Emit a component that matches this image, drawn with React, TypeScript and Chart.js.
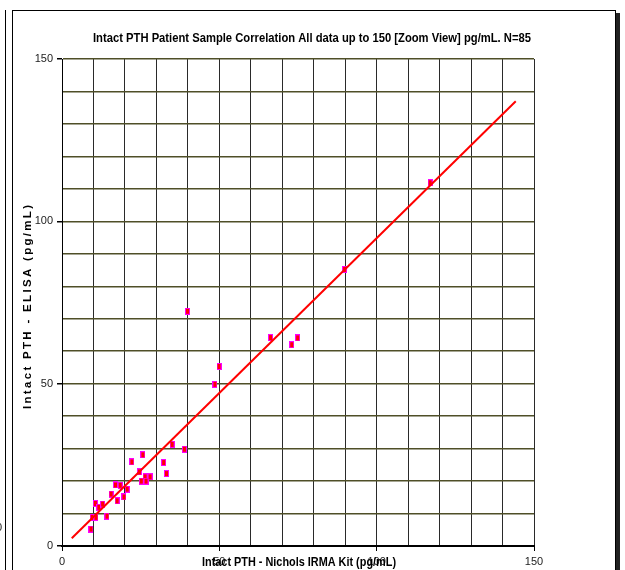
import React, { useEffect, useRef } from "react";
import { Chart, registerables } from "chart.js";

Chart.register(...registerables);

// Sample points (x = Nichols IRMA, y = ELISA), pg/mL
const sampleX = [9.2, 9.6, 10.8, 10.6, 11.7, 12.9, 14.3, 15.6, 17.5, 17.0, 18.5, 19.7, 20.7, 22.2, 25.7, 24.6, 25.2, 26.4, 26.7, 28.0, 32.3, 33.2, 35.0, 38.9, 39.9, 49.9, 48.6, 66.3, 73.0, 74.9, 89.8, 117.0];
const sampleY = [5.2, 8.8, 8.8, 13.1, 11.9, 12.9, 9.2, 16.0, 13.9, 18.8, 18.7, 15.1, 17.5, 25.9, 28.1, 22.8, 20.0, 21.3, 20.0, 21.3, 25.7, 22.3, 31.3, 29.8, 72.3, 55.3, 49.8, 64.2, 62.0, 64.1, 85.2, 111.9];

// Regression line end points
const fitX = [3.1, 144.2];
const fitY = [2.4, 137.0];

const yTickLabels = [0, 50, 100, 150];
const xTickLabels = [0, 50, 100, 150];

const TITLE = "Intact PTH Patient Sample Correlation All data up to 150 [Zoom View] pg/mL. N=85";
const X_TITLE = "Intact PTH - Nichols IRMA Kit (pg/mL)";
const Y_TITLE = "Intact PTH - ELISA (pg/mL)";

const FONT = 'Arial, "Liberation Sans", sans-serif';

function drawFitted(
  ctx: CanvasRenderingContext2D,
  text: string,
  cx: number,
  cy: number,
  target: number,
  font: string,
  rotate: boolean,
  color: string
) {
  ctx.save();
  ctx.font = font;
  ctx.fillStyle = color;
  ctx.textBaseline = "middle";
  ctx.textAlign = "left";
  const w = ctx.measureText(text).width;
  ctx.translate(cx, cy);
  if (rotate) ctx.rotate(-Math.PI / 2);
  if (target >= w) {
    const sp = (target - w) / Math.max(1, text.length - 1);
    (ctx as any).letterSpacing = sp + "px";
    const w2 = ctx.measureText(text).width - sp;
    ctx.fillText(text, -w2 / 2, 0);
  } else {
    ctx.scale(target / w, 1);
    ctx.fillText(text, -w / 2, 0);
  }
  ctx.restore();
}

const decorPlugin = {
  id: "decor",
  beforeDraw(chart: any) {
    const ctx = chart.ctx as CanvasRenderingContext2D;
    ctx.save();
    ctx.fillStyle = "#ffffff";
    ctx.fillRect(0, 0, chart.width, chart.height);
    ctx.restore();
  },
  afterDraw(chart: any) {
    const ctx = chart.ctx as CanvasRenderingContext2D;
    ctx.save();
    // neighbouring chart edge
    ctx.fillStyle = "#000";
    ctx.fillRect(5, 10, 1, 570);
    ctx.font = "11px " + FONT;
    ctx.textAlign = "right";
    ctx.textBaseline = "middle";
    ctx.fillStyle = "#222";
    ctx.fillText("0", 2, 528);
    // frame + shadow
    ctx.strokeStyle = "#000";
    ctx.lineWidth = 1;
    ctx.strokeRect(12.5, 10.5, 603, 620);
    ctx.fillRect(616, 13, 4, 600);
    ctx.restore();

    drawFitted(ctx, TITLE, 312, 38, 438, "bold 13px " + FONT, false, "#000");
    drawFitted(ctx, X_TITLE, 299, 563, 194, "bold 12px " + FONT, false, "#000");
    drawFitted(ctx, Y_TITLE, 28, 307, 204, "bold 11.5px " + FONT, true, "#000");
  },
};

function makeMarker(): HTMLCanvasElement {
  const c = document.createElement("canvas");
  c.width = 5;
  c.height = 7;
  const g = c.getContext("2d")!;
  g.fillStyle = "#ff00ff";
  g.fillRect(0, 0, 5, 7);
  g.fillStyle = "#ff0000";
  g.fillRect(1, 1, 3, 5);
  return c;
}

export default function App() {
  const ref = useRef<HTMLCanvasElement | null>(null);

  useEffect(() => {
    const canvas = ref.current;
    if (!canvas) return;
    const marker = makeMarker();
    const points = sampleX.map((x, i) => ({ x, y: sampleY[i] }));
    const fit = fitX.map((x, i) => ({ x, y: fitY[i] }));

    const chart = new Chart(canvas, {
      type: "scatter",
      data: {
        datasets: [
          {
            type: "line",
            data: fit,
            borderColor: "#ff0000",
            borderWidth: 2,
            pointRadius: 0,
            fill: false,
          } as any,
          {
            type: "scatter",
            data: points,
            pointStyle: marker as any,
            pointRadius: 4,
            showLine: false,
          } as any,
        ],
      },
      options: {
        animation: false,
        responsive: false,
        devicePixelRatio: 1,
        layout: { padding: { top: 59, right: 91, left: 0, bottom: 0 } },
        plugins: {
          legend: { display: false },
          title: { display: false },
          tooltip: { enabled: false },
        },
        scales: {
          x: {
            type: "linear",
            min: 0,
            max: 150,
            afterFit(scale: any) {
              scale.height = 24;
            },
            ticks: {
              stepSize: 10,
              autoSkip: false,
              maxRotation: 0,
              padding: 4,
              color: "#222",
              font: { family: FONT, size: 11 },
              callback: (v: any) => (xTickLabels.includes(Number(v)) ? String(v) : ""),
            },
            grid: {
              color: "#2a2a2a",
              lineWidth: 1,
              tickLength: 5,
              tickColor: (c: any) =>
                c.tick && xTickLabels.includes(c.tick.value) ? "#000" : "rgba(0,0,0,0)",
            },
            border: { color: "#000", width: 2 },
          },
          y: {
            type: "linear",
            min: 0,
            max: 150,
            afterFit(scale: any) {
              scale.width = 62;
            },
            ticks: {
              stepSize: 10,
              autoSkip: false,
              padding: 4,
              color: "#222",
              font: { family: FONT, size: 11 },
              callback: (v: any) => (yTickLabels.includes(Number(v)) ? String(v) : ""),
            },
            grid: {
              color: "#4f4f28",
              lineWidth: 1.5,
              tickLength: 5,
              tickColor: (c: any) =>
                c.tick && yTickLabels.includes(c.tick.value) ? "#000" : "rgba(0,0,0,0)",
            },
            border: { color: "#000", width: 1 },
          },
        },
      },
      plugins: [decorPlugin],
    });
    return () => chart.destroy();
  }, []);

  return (
    <div style={{ position: "absolute", left: 0, top: 0, width: 625, height: 570, background: "#fff" }}>
      <canvas ref={ref} width={625} height={570} style={{ width: 625, height: 570, display: "block" }} />
    </div>
  );
}
